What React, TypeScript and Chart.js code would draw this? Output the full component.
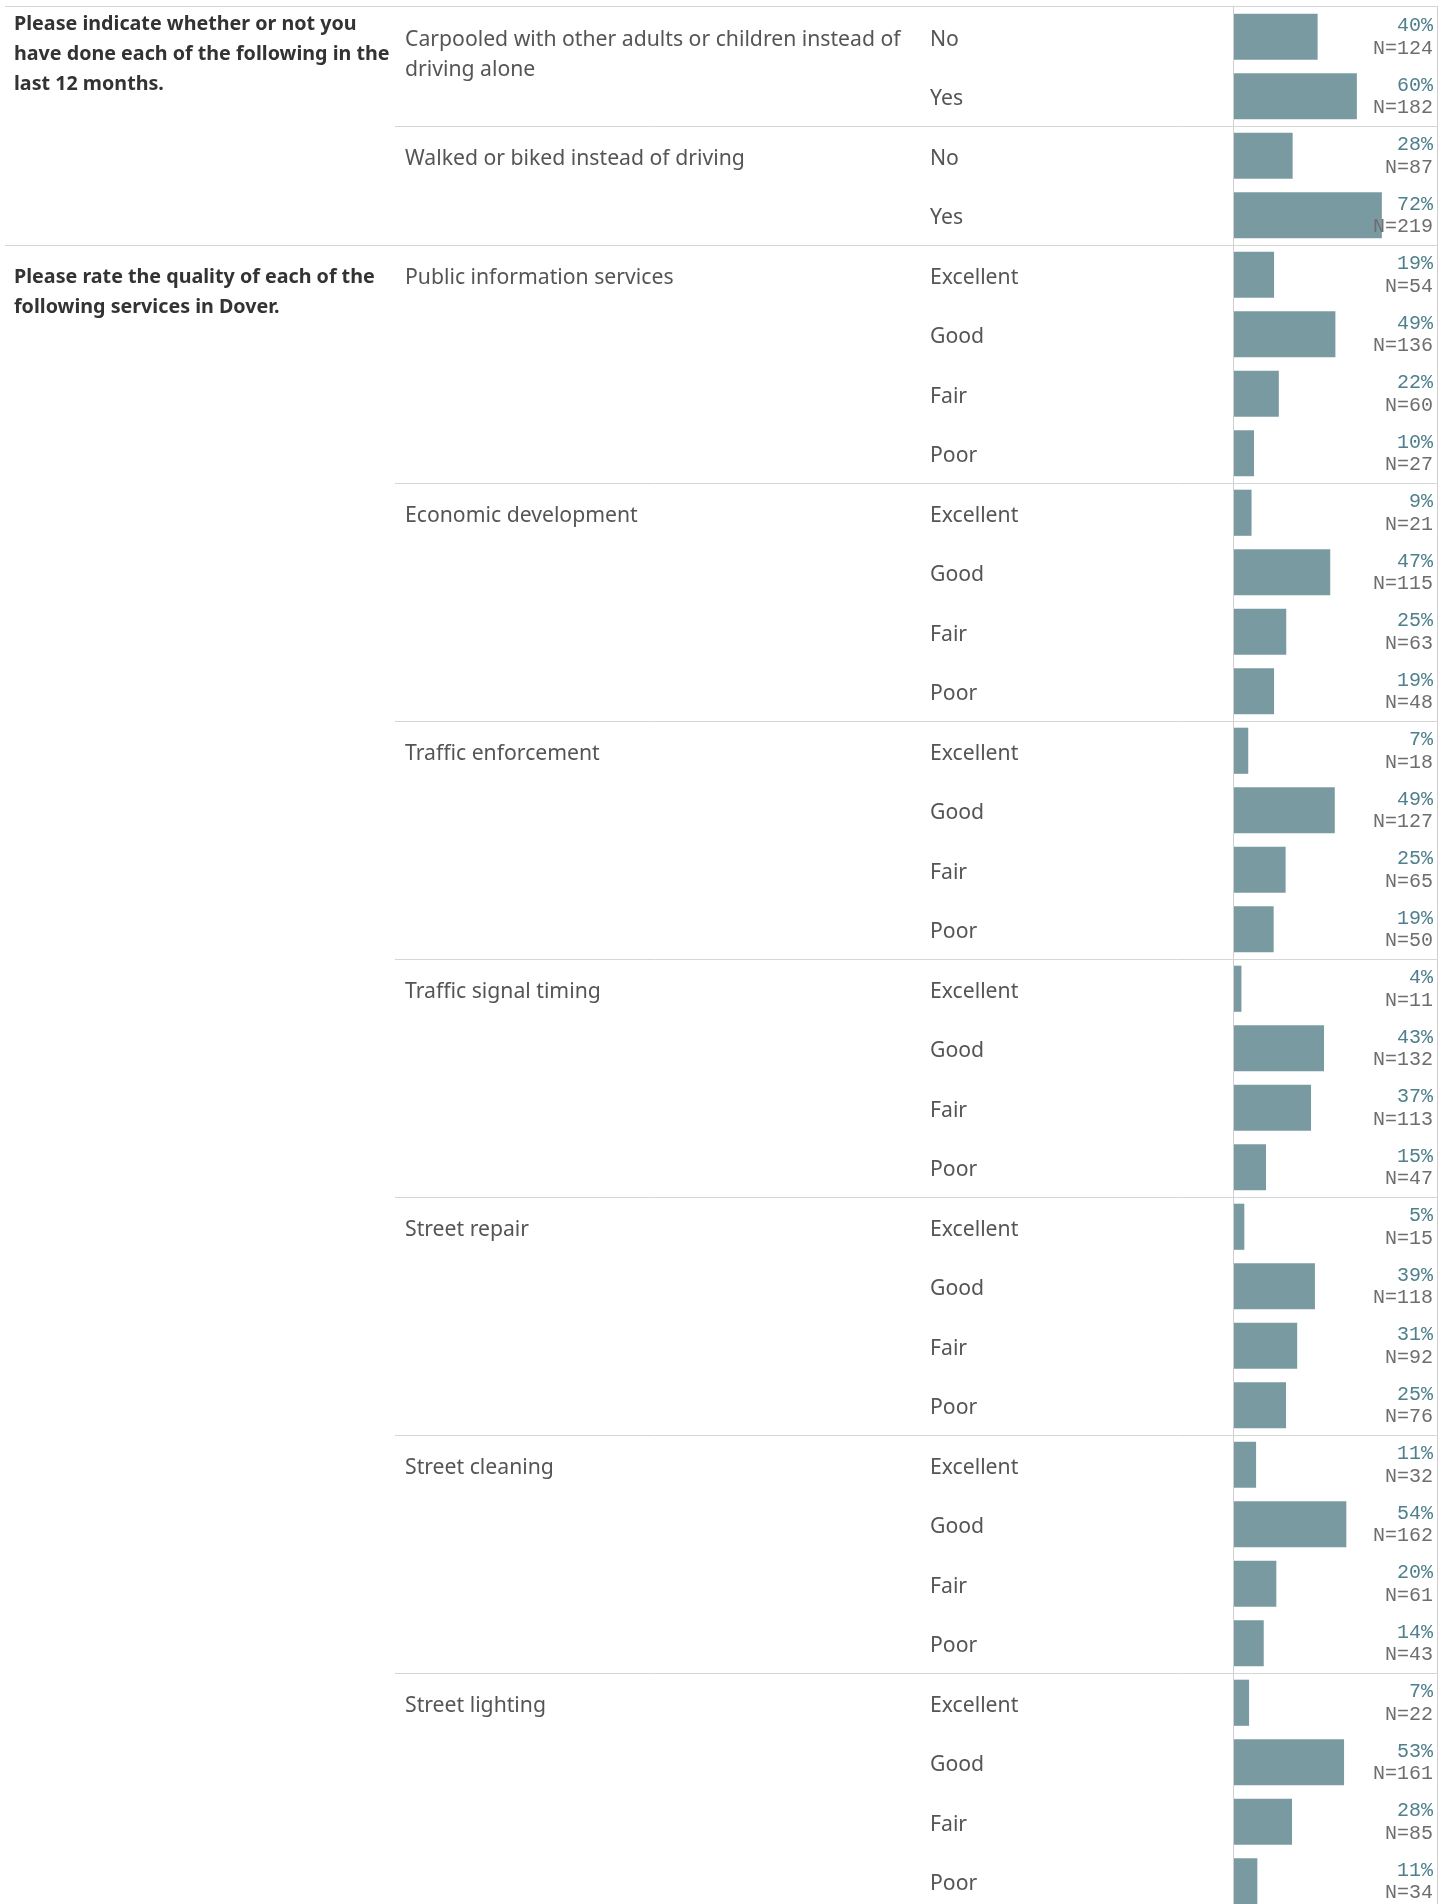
import React, { useEffect, useRef } from "react";
import { Chart, registerables } from "chart.js";

Chart.register(...registerables);

// ---- data ----
const sectionTitles: string[][] = [
  ["Please indicate whether or not you", "have done each of the following in the", "last 12 months."],
  ["Please rate the quality of each of the", "following services in Dover."],
];

const itemNames: string[][] = [
  ["Carpooled with other adults or children instead of", "driving alone"],
  ["Walked or biked instead of driving"],
  ["Public information services"],
  ["Economic development"],
  ["Traffic enforcement"],
  ["Traffic signal timing"],
  ["Street repair"],
  ["Street cleaning"],
  ["Street lighting"],
];
const itemSection = [0, 0, 1, 1, 1, 1, 1, 1, 1];

const yesNoAnswers = ["No", "Yes"];
const ratingAnswers = ["Excellent", "Good", "Fair", "Poor"];

// bar lengths (share of respondents, %)
const carpoolShare = [40.5, 59.5];
const walkedShare = [28.4, 71.6];
const publicInfoShare = [19.4, 49.1, 21.7, 9.7];
const economicShare = [8.5, 46.6, 25.3, 19.4];
const enforcementShare = [6.9, 48.8, 25.0, 19.2];
const signalShare = [3.6, 43.6, 37.3, 15.5];
const repairShare = [5.0, 39.2, 30.6, 25.2];
const cleaningShare = [10.7, 54.4, 20.5, 14.4];
const lightingShare = [7.3, 53.3, 28.1, 11.3];

// printed percent labels
const carpoolPct = [40, 60];
const walkedPct = [28, 72];
const publicInfoPct = [19, 49, 22, 10];
const economicPct = [9, 47, 25, 19];
const enforcementPct = [7, 49, 25, 19];
const signalPct = [4, 43, 37, 15];
const repairPct = [5, 39, 31, 25];
const cleaningPct = [11, 54, 20, 14];
const lightingPct = [7, 53, 28, 11];

// respondent counts
const carpoolN = [124, 182];
const walkedN = [87, 219];
const publicInfoN = [54, 136, 60, 27];
const economicN = [21, 115, 63, 48];
const enforcementN = [18, 127, 65, 50];
const signalN = [11, 132, 113, 47];
const repairN = [15, 118, 92, 76];
const cleaningN = [32, 162, 61, 43];
const lightingN = [22, 161, 85, 34];

const shares = [carpoolShare, walkedShare, publicInfoShare, economicShare, enforcementShare, signalShare, repairShare, cleaningShare, lightingShare];
const pcts = [carpoolPct, walkedPct, publicInfoPct, economicPct, enforcementPct, signalPct, repairPct, cleaningPct, lightingPct];
const counts = [carpoolN, walkedN, publicInfoN, economicN, enforcementN, signalN, repairN, cleaningN, lightingN];

type Row = { item: number; answer: string; share: number; pct: number; n: number; first: boolean; last: boolean };
const rows: Row[] = [];
shares.forEach((s, item) => {
  const answers = s.length === 2 ? yesNoAnswers : ratingAnswers;
  s.forEach((v, k) => {
    rows.push({ item, answer: answers[k], share: v, pct: pcts[item][k], n: counts[item][k], first: k === 0, last: k === s.length - 1 });
  });
});

const BAR = "#7a9aa2";
const GRID = "#d6d6d6";
const SANS = '"Noto Sans", sans-serif';
const MONO = '"Liberation Mono", monospace';

const overlay = {
  id: "overlay",
  beforeDatasetsDraw(chart: any) {
    const { ctx, chartArea, scales } = chart;
    const y = scales.y;
    const half = (y.getPixelForValue(1) - y.getPixelForValue(0)) / 2;
    ctx.save();
    ctx.strokeStyle = GRID;
    ctx.lineWidth = 1;
    const hline = (x0: number, x1: number, yy: number) => {
      const py = Math.round(yy) + 0.5;
      ctx.beginPath();
      ctx.moveTo(x0, py);
      ctx.lineTo(x1, py);
      ctx.stroke();
    };
    hline(5, chartArea.right, chartArea.top - 1);
    rows.forEach((r, i) => {
      if (r.last && i < rows.length - 1) {
        const sameSection = itemSection[rows[i + 1].item] === itemSection[r.item];
        hline(sameSection ? 395 : 5, chartArea.right, y.getPixelForValue(i) + half);
      }
    });
    const vline = (x: number) => {
      const px = Math.round(x) + 0.5;
      ctx.beginPath();
      ctx.moveTo(px, chartArea.top - 1);
      ctx.lineTo(px, chartArea.bottom);
      ctx.stroke();
    };
    ctx.strokeStyle = "#cfcfcf";
    vline(chartArea.left - 1);
    vline(chartArea.right);
    ctx.restore();
  },
  afterDatasetsDraw(chart: any) {
    const { ctx, chartArea, scales } = chart;
    const y = scales.y;
    ctx.save();
    ctx.textBaseline = "middle";
    const TXT_DY = 3;
    const seenSection: Record<number, boolean> = {};
    rows.forEach((r, i) => {
      const sec = itemSection[r.item];
      if (r.first && !seenSection[sec]) {
        seenSection[sec] = true;
        const lines = sectionTitles[sec];
        const y0 = y.getPixelForValue(i) + TXT_DY - (lines.length >= 3 ? 15 : 0);
        ctx.font = `bold 19.7px ${SANS}`;
        ctx.fillStyle = "#333333";
        ctx.textAlign = "left";
        lines.forEach((t, j) => ctx.fillText(t, 14, y0 + j * 30));
      }
      if (r.first) {
        ctx.font = `21.2px ${SANS}`;
        ctx.fillStyle = "#555555";
        ctx.textAlign = "left";
        const y0 = y.getPixelForValue(i) + TXT_DY;
        itemNames[r.item].forEach((t, j) => ctx.fillText(t, 405, y0 + j * 30));
      }
      const cy = y.getPixelForValue(i);
      ctx.font = `21.2px ${SANS}`;
      ctx.fillStyle = "#555555";
      ctx.textAlign = "left";
      ctx.fillText(r.answer, 930, cy + TXT_DY);
      ctx.font = `20px ${MONO}`;
      ctx.textAlign = "right";
      ctx.fillStyle = "#4f808c";
      ctx.fillText(`${r.pct}%`, chartArea.right - 4, cy - 11);
      ctx.fillStyle = "#6e6e6e";
      ctx.fillText(`N=${r.n}`, chartArea.right - 4, cy + 11.5);
    });
    ctx.restore();
  },
};

export default function App() {
  const ref = useRef<HTMLCanvasElement | null>(null);
  useEffect(() => {
    if (!ref.current) return;
    const chart = new Chart(ref.current, {
      type: "bar",
      data: {
        labels: rows.map((r, i) => `${i}|${r.answer}`),
        datasets: [
          {
            data: rows.map((r) => r.share),
            backgroundColor: BAR,
            borderWidth: 0,
            categoryPercentage: 1,
            barPercentage: 0.775,
          },
        ],
      },
      options: {
        indexAxis: "y",
        responsive: false,
        animation: false,
        events: [],
        layout: { padding: { left: 1234, right: 14, top: 7, bottom: 0 } },
        plugins: { legend: { display: false }, tooltip: { enabled: false } },
        scales: {
          x: { display: false, min: 0, max: 98.3, grid: { display: false } },
          y: { display: false, grid: { display: false } },
        },
      },
      plugins: [overlay],
    });
    return () => chart.destroy();
  }, []);
  return (
    <div style={{ position: "absolute", left: 0, top: 0, width: 1451, height: 1904, overflow: "hidden", background: "#fff" }}>
      <canvas ref={ref} width={1451} height={1911} style={{ display: "block", width: 1451, height: 1911 }} />
    </div>
  );
}
